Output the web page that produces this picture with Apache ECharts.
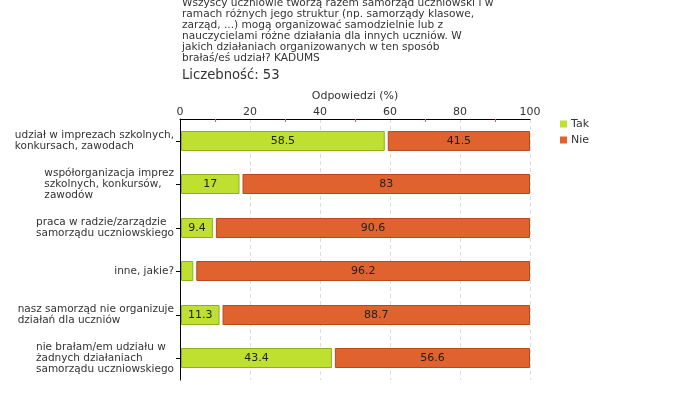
<!DOCTYPE html>
<html><head><meta charset="utf-8">
<script src="https://cdn.jsdelivr.net/npm/echarts@6/dist/echarts.min.js"></script>
<style>html,body{margin:0;padding:0;background:#fff}#c{width:680px;height:400px}</style>
</head><body><div id="c"></div>
<script>
const categories = [
  "udział w imprezach szkolnych,\nkonkursach, zawodach",
  "współorganizacja imprez\nszkolnych, konkursów,\nzawodów",
  "praca w radzie/zarządzie\nsamorządu uczniowskiego",
  "inne, jakie?",
  "nasz samorząd nie organizuje\ndziałań dla uczniów",
  "nie brałam/em udziału w\nżadnych działaniach\nsamorządu uczniowskiego"
];
const takValues = [58.5, 17, 9.4, 3.8, 11.3, 43.4];
const nieValues = [41.5, 83, 90.6, 96.2, 88.7, 56.6];
const titleText = "Wszyscy uczniowie tworzą razem samorząd uczniowski i w\nramach różnych jego struktur (np. samorządy klasowe,\nzarząd, ...) mogą organizować samodzielnie lub z\nnauczycielami różne działania dla innych uczniów. W\njakich działaniach organizowanych w ten sposób\nbrałaś/eś udział? KADUMS";
const subtitleText = "Liczebność: 53";
const axisName = "Odpowiedzi (%)";
const seriesNames = ["Tak", "Nie"];

const FONT = "DejaVu Sans";
const GREEN = "#bfe030", GREEN_B = "#8db020";
const ORANGE = "#e0622e", ORANGE_B = "#b64a1c";

function makeRender(kind) {
  return function (params, api) {
    const idx = api.value(2);
    const v = api.value(0);
    const base = api.value(1);
    const p0 = api.coord([base, idx]);
    const p1 = api.coord([base + v, idx]);
    const h = api.size([0, 1])[1] * 0.46;
    let x0 = p0[0] + 1, x1 = p1[0];
    if (kind === 'nie') { x0 = p0[0] + 3; }
    const showLabel = v >= 5;
    return {
      type: 'rect',
      shape: { x: x0 + 0.5, y: Math.round(p0[1] - h / 2) + 0.5, width: x1 - x0 - 1, height: Math.round(h) - 1 },
      style: {
        fill: kind === 'tak' ? GREEN : ORANGE,
        stroke: kind === 'tak' ? GREEN_B : ORANGE_B,
        lineWidth: 1
      },
      textContent: showLabel ? {
        style: { text: String(v), fill: '#222', font: '11px "' + FONT + '"' }
      } : undefined,
      textConfig: showLabel ? { position: 'inside' } : undefined
    };
  };
}

const takData = takValues.map((v, i) => [v, 0, i]);
const nieData = nieValues.map((v, i) => [v, takValues[i], i]);

const chart = echarts.init(document.getElementById('c'), null, { renderer: 'canvas' });
chart.setOption({
  animation: false,
  textStyle: { fontFamily: FONT },
  title: [
    { text: titleText, left: 182, top: -2.5, padding: 0,
      textStyle: { fontFamily: FONT, fontSize: 10.6, fontWeight: 'normal', color: '#333', lineHeight: 11 } },
    { text: subtitleText, left: 182, top: 69.5, padding: 0,
      textStyle: { fontFamily: FONT, fontSize: 13.2, fontWeight: 'normal', color: '#333' } }
  ],
  legend: {
    orient: 'vertical', left: 555, top: 113.5, itemWidth: 7, itemHeight: 7, itemGap: 5,
    icon: 'rect',
    textStyle: { fontFamily: FONT, fontSize: 11, color: '#333', padding: [0, 0, 0, -1] },
    data: [
      { name: seriesNames[0], itemStyle: { color: GREEN } },
      { name: seriesNames[1], itemStyle: { color: ORANGE } }
    ]
  },
  grid: { left: 180, right: 150, top: 119, bottom: 20, containLabel: false },
  xAxis: {
    type: 'value', position: 'top', min: 0, max: 100, interval: 20,
    name: axisName, nameLocation: 'middle', nameGap: 10,
    nameTextStyle: { fontFamily: FONT, fontSize: 11, color: '#333' },
    axisLine: { show: true, lineStyle: { color: '#000', width: 1 } },
    axisTick: { show: false, inside: true },
    minorTick: { show: true, splitNumber: 2, length: 3, lineStyle: { color: '#d06060' } },
    axisLabel: { fontFamily: FONT, fontSize: 11, color: '#333', margin: 1 },
    splitLine: { show: true, lineStyle: { color: '#dddddd', type: [4, 3] } }
  },
  yAxis: {
    type: 'category', data: categories, inverse: true,
    axisLine: { show: true, lineStyle: { color: '#000', width: 1 } },
    axisTick: { show: true, alignWithLabel: true, length: 4, lineStyle: { color: '#000' } },
    axisLabel: {
      margin: 6, color: '#333', fontFamily: FONT, fontSize: 10.5, lineHeight: 11,
      formatter: function (val) {
        return val.split('\n').map(s => '{a|' + s + '}').join('\n');
      },
      rich: { a: { align: 'left', fontFamily: FONT, fontSize: 10.5, color: '#333', lineHeight: 11 } }
    },
    splitLine: { show: false }
  },
  series: [
    { name: seriesNames[0], type: 'custom', renderItem: makeRender('tak'),
      itemStyle: { color: GREEN }, encode: { x: 0, y: 2 }, data: takData },
    { name: seriesNames[1], type: 'custom', renderItem: makeRender('nie'),
      itemStyle: { color: ORANGE }, encode: { x: 0, y: 2 }, data: nieData }
  ]
});
</script></body></html>
